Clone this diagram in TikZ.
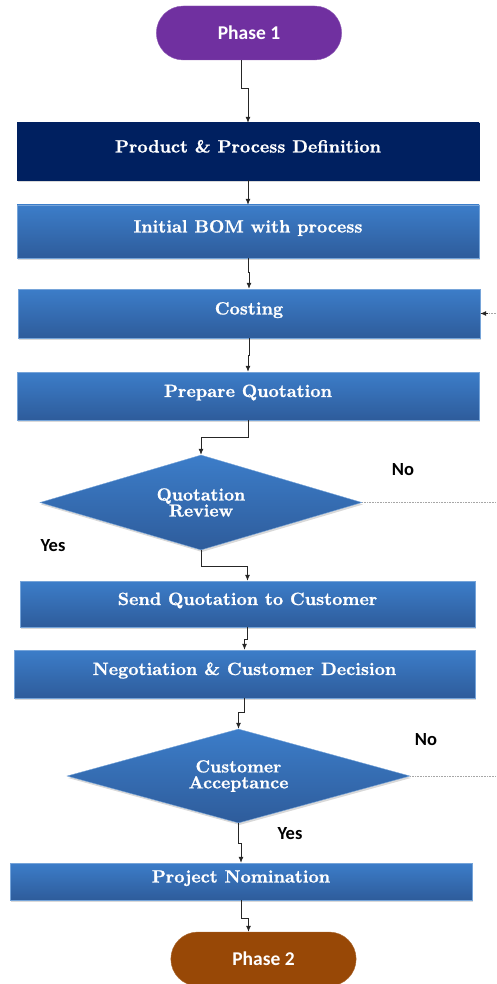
\documentclass[tikz,border=0pt]{standalone}
\usepackage{fontspec}
\newfontfamily\labelfont{Carlito}
\newfontfamily\stagefont{lmroman10-regular.otf}[BoldFont=lmroman10-bold.otf,BoldFeatures={FakeBold=1}]
\usetikzlibrary{shapes.geometric,shapes.misc}
\usetikzlibrary{arrows.meta,shadows}
\definecolor{boxtop}{HTML}{3C7DC9}
\definecolor{boxbot}{HTML}{2E5C9B}
\definecolor{defnavy}{HTML}{002060}
\definecolor{phasepurple}{HTML}{7030A0}
\definecolor{phasebrown}{HTML}{984806}
\tikzset{
  stage/.style={
    % The shape:
    shape=rectangle,inner sep=0pt,
    % The border:
    thin,draw=boxtop!70!white,
    % The filling:
    top color=boxtop, % lighter blue at the top...
    bottom color=boxbot, % and darker at the bottom
    drop shadow={shadow xshift=1pt,shadow yshift=-2pt,opacity=0.3},
    % The text:
    text height=12.5pt,text depth=10.5pt,
    text=white,font=\stagefont\fontsize{17.8}{17.8}\selectfont\bfseries}}
\tikzset{
  check/.style={
    % The shape:
    diamond,aspect=3.4,inner sep=0pt,
    % The rest
    thin,draw=boxtop!70!white,
    top color=boxtop,bottom color=boxbot,
    drop shadow={shadow xshift=1pt,shadow yshift=-2pt,opacity=0.3},
    text=white,align=center,
    font=\stagefont\fontsize{17.5}{16}\selectfont\bfseries}}
\tikzset{
  phase/.style={
    rounded rectangle,minimum width=192pt,minimum height=54pt,
    text=white,font=\labelfont\fontsize{19.5}{19.5}\selectfont\bfseries}}
\tikzset{
  answer/.style={font=\labelfont\fontsize{18.5}{18.5}\selectfont\bfseries}}
\tikzset{
  flow/.style={-{Latex[length=6pt,width=5pt]},line width=0.8pt,black!85}}
\tikzset{
  noline/.style={densely dotted,gray!70,line width=0.6pt}}

\begin{document}
\begin{tikzpicture}[x=1pt,y=-1pt]
	\useasboundingbox (0,0) rectangle (496,984);
	% Start and end
	\node[phase,fill=phasepurple,draw=phasepurple!80!white] (ph1) at (249,33) {Phase 1};
	\node[phase,fill=phasebrown,draw=phasebrown!80!white] (ph2) at (263.5,959) {Phase 2};
	% Process steps
	\node[stage,top color=defnavy,bottom color=defnavy,draw=defnavy,
		minimum width=462pt,minimum height=57pt] (pdef) at (248,151.5) {Product \& Process Definition};
	\node[stage,minimum width=462pt,minimum height=53pt] (bom) at (248,231.5) {Initial BOM with process};
	\node[stage,minimum width=462pt,minimum height=49pt] (cost) at (249,313.5) {Costing};
	\node[stage,minimum width=462pt,minimum height=48pt] (prep) at (248,396) {Prepare Quotation};
	\node[check,minimum width=322pt,minimum height=95pt] (qrev) at (201,502.5) {Quotation\\Review};
	\node[stage,minimum width=455pt,minimum height=46pt] (send) at (247.5,604) {Send Quotation to Customer};
	\node[stage,minimum width=461pt,minimum height=48pt] (nego) at (244.5,674) {Negotiation \& Customer Decision};
	\node[check,minimum width=343pt,minimum height=94pt] (cacc) at (238.5,776) {Customer\\Acceptance};
	\node[stage,minimum width=462pt,minimum height=37pt] (proj) at (241,881.5) {Project Nomination};
	% Answers
	\node[answer] (qno) at (403,470) {No};
	\node[answer] (qyes) at (53,546) {Yes};
	\node[answer] (cno) at (426,740) {No};
	\node[answer] (cyes) at (290,834) {Yes};
	% Free ends at the right edge
	\coordinate (qout) at (496,502.5);
	\coordinate (cout) at (496,776);
	\coordinate (back) at (496,313.5);
	% Lines down the chart
	\draw[flow] ([xshift=-8pt]ph1.south) -- ++(0,28) -| (pdef.north);
	\draw[flow] (pdef) -- (bom);
	\draw[flow] (bom.south) -- ++(0,14) -| (cost.north);
	\draw[flow] (cost.south) -- ++(0,17) -| (prep.north);
	\draw[flow] (prep.south) -- ++(0,17) -| (qrev.north);
	\draw[flow] (qrev.south) -- ++(0,16) -| (send.north);
	\draw[flow] (send.south) -- ++(0,12) -| (nego.north);
	\draw[flow] (nego.south) -- ++(0,14) -| (cacc.north);
	\draw[flow] (cacc.south) -- ++(0,20) -| (proj.north);
	\draw[flow] (proj.south) -- ++(0,18) -| ([xshift=-15pt]ph2.north);
	% Lines out to the right
	\draw[noline] (qrev.east) -- (qout);
	\draw[noline] (cacc.east) -- (cout);
	\draw[noline] (back) -- ++(-8,0);
	\draw[flow] ([xshift=-8pt]back) -- (cost.east);
\end{tikzpicture}
\end{document}
